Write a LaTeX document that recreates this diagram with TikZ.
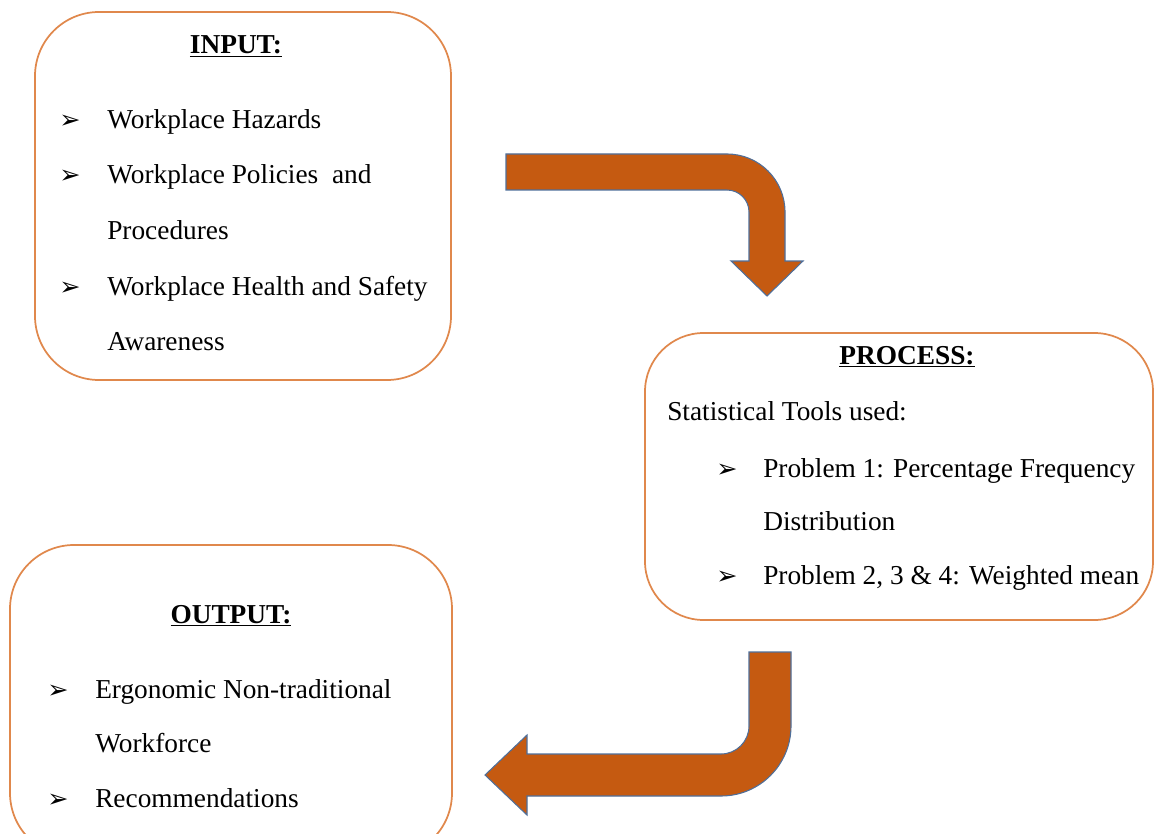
\documentclass[tikz,border=0pt]{standalone}
\usepackage{fontspec}
\setmainfont{Liberation Serif}
\newfontfamily\symfont{DejaVu Sans Bold}
\definecolor{boxline}{HTML}{E0884C}
\definecolor{arrowfill}{HTML}{C55A11}
\definecolor{arrowline}{HTML}{4F6F9A}
\begin{document}
\begin{tikzpicture}[x=0.75pt,y=-0.75pt,
  pbox/.style={draw=boxline,line width=1.3pt,rectangle,inner sep=0pt},
  txt/.style={anchor=base west,inner sep=0pt,font=\fontsize{20.5}{24}\selectfont},
  ttl/.style={anchor=base,inner sep=0pt,font=\fontsize{20.5}{24}\selectfont\bfseries},
  bul/.style={anchor=base west,inner sep=0pt,font=\symfont\fontsize{19}{22}\selectfont},
  barrow/.style={fill=arrowfill,draw=arrowline,line width=0.8pt,line join=miter}]
\useasboundingbox (0,0) rectangle (1155,834);
\clip (0,0) rectangle (1155,834);
% boxes
\node[pbox,rounded corners=48pt,minimum width=312pt,minimum height=276pt] (inbox) at (243,196) {};
\node[pbox,rounded corners=44pt,minimum width=381pt,minimum height=215.25pt] (procbox) at (899,476.5) {};
\node[pbox,rounded corners=48pt,minimum width=331.5pt,minimum height=234pt] (outbox) at (231,701) {};
% input text
\node[ttl] (intitle) at (236,54) {\underline{INPUT:}};
\node[bul] (ib1) at (59,129) {➢};
\node[txt] (it1) at (107,129) {Workplace Hazards};
\node[bul] (ib2) at (59,184) {➢};
\node[txt] (it2) at (107,184) {Workplace Policies\ \ and};
\node[txt] (it3) at (107,239) {Procedures};
\node[bul] (ib3) at (59,295) {➢};
\node[txt] (it4) at (107,295) {Workplace Health and Safety};
\node[txt] (it5) at (107,350) {Awareness};
% process text
\node[ttl] (proctitle) at (907,364) {\underline{PROCESS:}};
\node[txt] (pt0) at (667,420) {Statistical Tools used:};
\node[bul] (pb1) at (716,477) {➢};
\node[txt] (pt1) at (763,477) {Problem 1: Percentage Frequency};
\node[txt] (pt2) at (763,530) {Distribution};
\node[bul] (pb2) at (716,584) {➢};
\node[txt] (pt3) at (763,584) {Problem 2, 3 \& 4: Weighted mean};
% output text
\node[ttl] (outtitle) at (231,623) {\underline{OUTPUT:}};
\node[bul] (ob1) at (47,698) {➢};
\node[txt] (ot1) at (95,698) {Ergonomic Non-traditional};
\node[txt] (ot2) at (95,752) {Workforce};
\node[bul] (ob2) at (47,807) {➢};
\node[txt] (ot3) at (95,807) {Recommendations};
% bent arrow: input -> process
\draw[barrow] (506,154) -- (727,154) arc[start angle=-90,end angle=0,radius=58]
  -- (785,261) -- (803,261) -- (767,296) -- (731,261) -- (749,261) -- (749,212)
  arc[start angle=0,end angle=-90,radius=22] -- (506,190) -- cycle;
% bent arrow: process -> output
\draw[barrow] (749,652) -- (791,652) -- (791,726) arc[start angle=0,end angle=90,radius=70]
  -- (527,796) -- (527,815) -- (485,775) -- (527,735) -- (527,754) -- (721,754)
  arc[start angle=90,end angle=0,radius=28] -- cycle;
\end{tikzpicture}
\end{document}
